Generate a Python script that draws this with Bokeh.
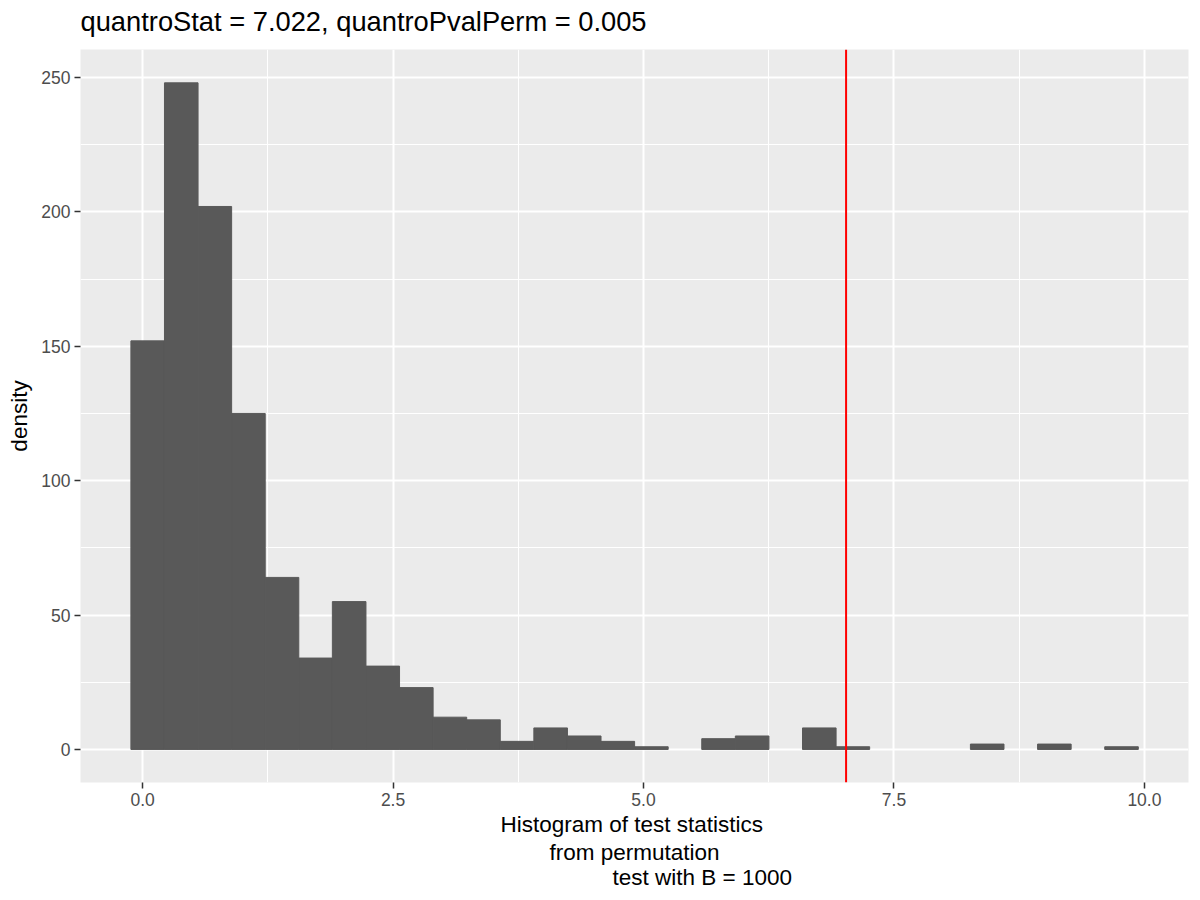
from bokeh.plotting import figure
from bokeh.models import FixedTicker, Span, Title, Range1d, CustomJSTickFormatter
from bokeh.embed import file_html
from bokeh.resources import INLINE

# ---- data ----
counts = [152, 248, 202, 125, 64, 34, 55, 31, 23, 12, 11, 3, 8, 5, 3, 1, 0,
          4, 5, 0, 8, 1, 0, 0, 0, 2, 0, 2, 0, 1]
bin_start = -0.117
bin_width = 0.3352
quantro_stat = 7.022
x_ticks = [0.0, 2.5, 5.0, 7.5, 10.0]
x_minor = [1.25, 3.75, 6.25, 8.75]
y_ticks = [0, 50, 100, 150, 200, 250]
y_minor = [25, 75, 125, 175, 225]
title_text = "quantroStat = 7.022, quantroPvalPerm = 0.005"
xlab_lines = ["Histogram of test statistics", "from permutation", "test with B = 1000"]
ylab = "density"

lefts = [bin_start + i * bin_width for i in range(len(counts))]
bars_l = [l for l, c in zip(lefts, counts) if c > 0]
bars_r = [l + bin_width for l in bars_l]
bars_t = [c for c in counts if c > 0]

FONT = "Liberation Sans"

p = figure(width=1196, height=896, output_backend="svg", toolbar_location=None,
           x_range=Range1d(-0.62, 10.44), y_range=Range1d(-12.3, 260.4),
           min_border_left=80, min_border_right=8, min_border_top=49,
           min_border_bottom=114)
p.background_fill_color = "#EBEBEB"
p.border_fill_color = "white"
p.outline_line_color = None

# title (outermost), with a small blank spacer between it and the panel
p.title.text = title_text
p.title.text_font = FONT
p.title.text_font_size = "27.3px"
p.title.text_font_style = "normal"
p.title.text_color = "black"
p.title.align = "left"
p.title.standoff = 0
p.title.offset = 0
p.add_layout(Title(text=" ", text_font_size="1px", standoff=10), "above")

# grids
p.xaxis.ticker = FixedTicker(ticks=x_ticks, minor_ticks=x_minor)
p.yaxis.ticker = FixedTicker(ticks=y_ticks, minor_ticks=y_minor)
for g in (p.xgrid, p.ygrid):
    g.grid_line_color = "white"
    g.grid_line_width = 2
    g.minor_grid_line_color = "white"
    g.minor_grid_line_width = 1

# axes
for ax in (p.xaxis, p.yaxis):
    ax.axis_line_color = None
    ax.major_tick_line_color = "#333333"
    ax.major_tick_line_width = 1.5
    ax.major_tick_out = 6
    ax.major_tick_in = 0
    ax.minor_tick_line_color = None
    ax.major_label_text_font = FONT
    ax.major_label_text_font_size = "17.5px"
    ax.major_label_text_color = "#4D4D4D"
    ax.major_label_standoff = 4

p.xaxis.formatter = CustomJSTickFormatter(code="return tick.toFixed(1);")
p.yaxis.formatter = CustomJSTickFormatter(code="return tick.toFixed(0);")

p.yaxis.axis_label = ylab
p.yaxis.axis_label_text_font = FONT
p.yaxis.axis_label_text_font_size = "22.5px"
p.yaxis.axis_label_text_font_style = "normal"
p.yaxis.axis_label_text_color = "black"
p.yaxis.axis_label_standoff = 6

# bars
p.quad(left=bars_l, right=bars_r, top=bars_t, bottom=0,
       fill_color="#595959", line_color="#595959", line_width=1)

# observed statistic
p.add_layout(Span(location=quantro_stat, dimension="height",
                  line_color="red", line_width=2))

# multi-line x axis title, stacked below the axis
xlab_offsets = [420, 469, 532]
xlab_standoffs = [3, -2, -2]
for t, off, so in zip(xlab_lines, xlab_offsets, xlab_standoffs):
    p.add_layout(Title(text=t, align="left", offset=off, standoff=so,
                       text_font=FONT, text_font_size="22.5px",
                       text_font_style="normal", text_color="black"), "below")

open("out.html", "w").write(file_html(p, INLINE))
